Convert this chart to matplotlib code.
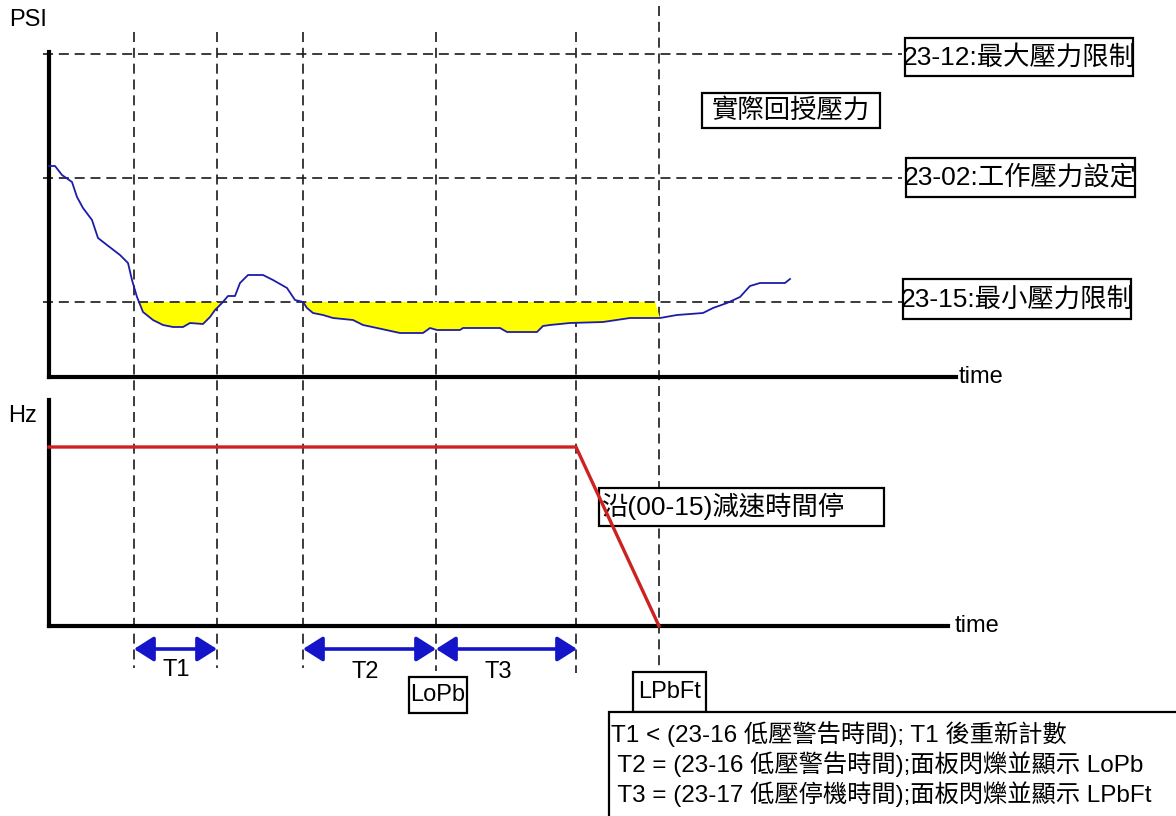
import matplotlib
matplotlib.use('Agg')
import matplotlib.pyplot as plt
from matplotlib.patches import Rectangle
from matplotlib.transforms import blended_transform_factory
import numpy as np

plt.rcParams['font.family'] = ['Liberation Sans', 'Noto Sans CJK TC', 'DejaVu Sans']

# ---------------- data ----------------
curve_time = [0, 6, 13, 23, 28, 34, 43, 49, 58, 71, 79, 83, 88, 94, 104, 114, 124, 134,
              141, 154, 161, 166, 173, 179, 186, 191, 199, 214, 224, 238, 246, 254, 258,
              264, 274, 284, 304, 314, 328, 351, 374, 381, 388, 411, 414, 451, 458, 488,
              494, 501, 521, 554, 581, 606, 611, 628, 654, 664, 678, 691, 701, 711, 736, 741]
curve_psi = [211, 211, 202, 195, 180, 169, 157, 139, 132, 122, 114, 97, 80, 65, 57, 52, 50, 50,
             54, 53, 60, 67, 74, 81, 81, 94, 102, 102, 97, 89, 77, 75, 69,
             64, 62, 59, 57, 52, 49, 44, 44, 49, 47, 47, 49, 49, 45, 45,
             51, 52, 54, 55, 59, 59, 59, 62, 64, 69, 74, 80, 91, 94, 94, 98]

level_values = [323, 199, 75]
level_labels = ['23-12:最大壓力限制', '23-02:工作壓力設定', '23-15:最小壓力限制']
low_limit = 75
fill_until = 606

freq_time = [0, 527, 610]
freq_hz = [179, 179, 0]

event_times = [85, 168, 254, 387, 527, 610]
interval_labels = ['T1', 'T2', 'T3']
interval_start = [85, 254, 387]
interval_end = [168, 387, 528]

feedback_label = '實際回授壓力'
decel_label = '沿(00-15)減速時間停'
code_labels = ['LoPb', 'LPbFt']
notes = ['T1 < (23-16 低壓警告時間); T1 後重新計數',
         ' T2 = (23-16 低壓警告時間);面板閃爍並顯示 LoPb',
         ' T3 = (23-17 低壓停機時間);面板閃爍並顯示 LPbFt']

# ---------------- figure ----------------
W, H = 1176, 816
fig = plt.figure(figsize=(W / 100, H / 100), dpi=100)
fig.patch.set_facecolor('white')

ax0 = fig.add_axes([0, 0, 1, 1])
ax0.set_xlim(0, W)
ax0.set_ylim(H, 0)
ax0.axis('off')

def panel(x0, x1, ytop, ybot):
    return fig.add_axes([x0 / W, (H - ybot) / H, (x1 - x0) / W, (ybot - ytop) / H])

ax1 = panel(49, 956, 52, 377)
ax1.set_xlim(0, 907)
ax1.set_ylim(0, 325)
ax2 = panel(49, 948, 400, 626)
ax2.set_xlim(0, 899)
ax2.set_ylim(0, 226)
for ax in (ax1, ax2):
    ax.patch.set_alpha(0)
    ax.set_xticks([])
    ax.set_yticks([])
    for s in ('top', 'right'):
        ax.spines[s].set_visible(False)
    for s in ('left', 'bottom'):
        ax.spines[s].set_linewidth(3)
        ax.spines[s].set_color('black')
    ax.set_zorder(2)

dash = (0, (6, 3.5))
dcol = '#1a1a1a'

# horizontal levels
for lvl in level_values:
    ax1.plot([-6, 853], [lvl, lvl], ls=dash, color=dcol, lw=1.2, clip_on=False, zorder=2)

# yellow fill under minimum
t = np.array(curve_time)
p = np.array(curve_psi)
ax1.fill_between(t, p, low_limit, where=(p <= low_limit) & (t <= fill_until),
                 interpolate=True, color='#ffff00', lw=0, zorder=1)
ax1.plot(curve_time, curve_psi, color='#1c1ca8', lw=1.3, zorder=3, clip_on=False)

# frequency
ax2.plot(freq_time, freq_hz, color='#cc2222', lw=2.4, zorder=3, clip_on=False,
         solid_joinstyle='miter')

# vertical event lines
tr = blended_transform_factory(ax1.transData, ax0.transData)
tops = [32, 32, 32, 32, 32, 6]
bots = [668, 668, 668, 671, 673, 672]
for et, y0, y1 in zip(event_times, tops, bots):
    ax0.plot([et, et], [y0, y1], transform=tr, ls=dash, color=dcol, lw=1.2, zorder=1)

# interval arrows
for a, b, lab in zip(interval_start, interval_end, interval_labels):
    ax0.annotate('', xy=(b, 649), xycoords=tr, xytext=(a, 649), textcoords=tr,
                 arrowprops=dict(arrowstyle='<|-|>,head_length=0.6,head_width=0.38',
                                 mutation_scale=20, color='#1414c8', lw=2.6,
                                 shrinkA=0, shrinkB=0))
lab_pos = [(176, 670), (365, 672), (498, 672)]
for (x, y), lab in zip(lab_pos, interval_labels):
    ax0.text(x, y, lab, fontsize=17, ha='center', va='center')

# axis labels
ax0.text(9, 20, 'PSI', fontsize=17, ha='left', va='center')
ax0.text(8, 416, 'Hz', fontsize=17, ha='left', va='center')
ax0.text(959, 377, 'time', fontsize=17, ha='left', va='center')
ax0.text(955, 626, 'time', fontsize=17, ha='left', va='center')

def box(x0, y0, x1, y1, lw=1.6):
    ax0.add_patch(Rectangle((x0, y0), x1 - x0, y1 - y0, fill=True, fc='white',
                            ec='black', lw=lw, zorder=4, clip_on=True))

# level labels
lvl_boxes = [(905, 38, 1133, 76), (906, 158, 1135, 197), (903, 279, 1131, 319)]
for (x0, y0, x1, y1), lab in zip(lvl_boxes, level_labels):
    box(x0, y0, x1, y1)
    ax0.text((x0 + x1) / 2, (y0 + y1) / 2, lab, fontsize=19, ha='center', va='center', zorder=5)

box(702, 93, 880, 128)
ax0.text(791, 110.5, feedback_label, fontsize=19, ha='center', va='center', zorder=5)

box(599, 488, 884, 526)
ax0.text(601, 506, decel_label, fontsize=19, ha='left', va='center', zorder=5)

box(409, 677, 467, 713)
ax0.text(438, 695, code_labels[0], fontsize=17, ha='center', va='center', zorder=5)
box(633, 672, 706, 712)
ax0.text(669.5, 692, code_labels[1], fontsize=17, ha='center', va='center', zorder=5)

box(609, 712, 1190, 830)
for i, line in enumerate(notes):
    ax0.text(611, 734 + 30 * i, line, fontsize=17.5, ha='left', va='center', zorder=5)

fig.savefig('out.png', dpi=100, facecolor='white')
